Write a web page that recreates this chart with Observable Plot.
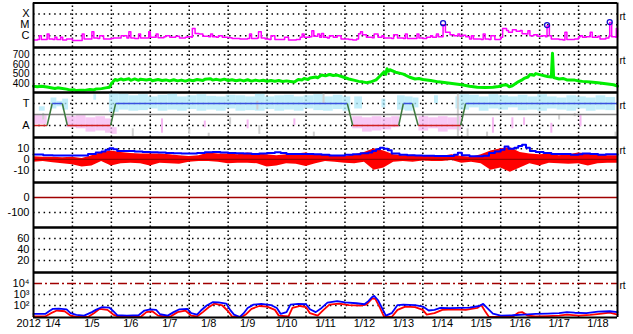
<!DOCTYPE html>
<html><head><meta charset="utf-8">
<script src="https://cdn.jsdelivr.net/npm/d3@7"></script>
<script src="https://cdn.jsdelivr.net/npm/@observablehq/plot@0.6"></script>
<style>
html,body{margin:0;padding:0;background:#fff;}
#chart{position:relative;width:633px;height:334px;overflow:hidden;background:#fff;}
#chart svg{position:absolute;left:0;top:0;}
</style></head><body><div id="chart"></div>
<script>
// ---------- DATA (t = days since 2012-01-04 00:00 UT) ----------
const dayLabels = ["1/4","1/5","1/6","1/7","1/8","1/9","1/10","1/11","1/12","1/13","1/14","1/15","1/16","1/17","1/18"];
const yearLabel = "2012";

// X-ray flux in units of 1e-6 W/m2 (C = 1)
const xrayFlux = [[0,0.4],[0.1,0.45],[0.15,1.0],[0.2,0.45],[0.35,1.4],[0.4,0.5],[0.5,0.45],[0.55,0.7],[0.6,0.45],[0.7,0.7],[0.75,0.4],[0.85,0.5],[1.0,0.35],[1.2,0.35],[1.25,1.4],[1.3,0.5],[1.45,0.5],[1.5,2.3],[1.55,0.6],[1.65,0.55],[1.7,1.0],[1.8,0.5],[2.0,0.55],[2.05,0.6],[2.2,0.6],[2.25,1.0],[2.4,0.6],[2.45,2.3],[2.5,0.6],[2.6,0.55],[2.7,1.4],[2.75,0.6],[2.9,0.6],[2.96,2.3],[3.0,0.7],[3.15,1.4],[3.2,0.65],[3.35,0.8],[3.4,1.0],[3.5,0.7],[3.6,0.7],[3.65,0.9],[3.75,0.6],[3.9,0.7],[3.95,0.8],[4.05,0.7],[4.08,4.6],[4.15,1.6],[4.25,1.4],[4.35,0.9],[4.5,0.8],[4.55,1.4],[4.6,0.8],[4.7,0.7],[4.75,1.0],[4.85,0.7],[5.0,0.65],[5.1,0.55],[5.3,0.5],[5.5,0.55],[5.55,1.4],[5.6,0.55],[5.75,0.6],[5.78,2.3],[5.85,0.6],[5.95,0.5],[6.05,0.45],[6.1,1.0],[6.2,0.45],[6.4,0.45],[6.45,0.7],[6.55,0.4],[6.75,0.45],[6.85,0.7],[6.9,1.4],[6.95,0.7],[7.1,0.8],[7.15,2.8],[7.2,0.9],[7.3,1.4],[7.35,0.7],[7.4,1.6],[7.45,0.7],[7.55,0.6],[7.6,1.0],[7.7,0.7],[7.8,1.0],[7.9,0.5],[8.1,0.45],[8.2,0.4],[8.3,0.5],[8.35,1.5],[8.4,2.3],[8.45,1.2],[8.55,0.7],[8.7,0.65],[8.75,1.4],[8.85,0.7],[8.95,1.0],[9.0,0.6],[9.2,0.55],[9.25,1.2],[9.35,0.6],[9.5,0.55],[9.55,1.4],[9.6,0.55],[9.8,0.55],[9.85,1.4],[9.9,0.6],[10.0,0.55],[10.1,0.7],[10.2,1.0],[10.25,0.7],[10.35,1.4],[10.4,0.8],[10.5,0.8],[10.52,10],[10.58,2.0],[10.7,1.2],[10.8,1.0],[10.9,1.4],[10.95,0.9],[11.0,1.1],[11.1,0.8],[11.2,0.5],[11.25,1.0],[11.3,0.5],[11.5,0.45],[11.55,1.4],[11.6,0.5],[11.7,0.45],[11.75,1.0],[11.85,0.45],[12.0,0.7],[12.05,4.6],[12.15,3.0],[12.2,2.0],[12.3,3.5],[12.4,2.5],[12.5,3.0],[12.55,1.5],[12.65,1.4],[12.7,2.8],[12.75,1.0],[12.85,1.2],[12.95,0.9],[13.05,1.0],[13.15,0.8],[13.19,8],[13.25,1.0],[13.3,0.5],[13.5,0.45],[13.6,0.4],[13.65,2.0],[13.7,0.45],[13.9,0.5],[14.0,0.8],[14.05,1.0],[14.1,0.7],[14.2,0.8],[14.3,2.0],[14.35,0.7],[14.5,0.9],[14.55,0.5],[14.7,0.6],[14.78,0.9],[14.8,16],[14.85,0.8],[14.95,0.7],[14.97,4.6],[15,0.8]];
const flareTimes = [10.52, 13.19, 14.8];
const flareMarks = [14, 9.4, 17.5];
const xrayTicks = [1, 10, 100];
const xrayTickLabels = ["C", "M", "X"];

// Solar wind speed (km/s)
const windSpeed = [[0,375],[0.1,370],[0.2,374],[0.35,366],[0.45,360],[0.55,352],[0.62,358],[0.7,354],[0.85,345],[0.95,335],[1.05,338],[1.1,330],[1.2,334],[1.3,332],[1.45,340],[1.55,336],[1.6,345],[1.75,350],[1.85,358],[1.95,365],[2.0,400],[2.05,425],[2.1,445],[2.15,435],[2.25,450],[2.3,440],[2.45,452],[2.5,436],[2.6,450],[2.7,436],[2.75,448],[2.9,440],[3.0,446],[3.05,432],[3.2,444],[3.3,434],[3.4,440],[3.5,430],[3.6,442],[3.7,430],[3.8,438],[3.9,428],[4.0,440],[4.1,432],[4.2,444],[4.35,434],[4.4,446],[4.55,452],[4.6,438],[4.7,446],[4.8,436],[4.9,448],[5.0,434],[5.1,442],[5.2,432],[5.3,440],[5.4,430],[5.5,442],[5.6,428],[5.7,438],[5.8,430],[5.9,436],[6.0,426],[6.1,434],[6.2,426],[6.3,434],[6.4,424],[6.5,430],[6.6,424],[6.7,418],[6.8,445],[6.9,440],[6.95,455],[7.05,445],[7.1,460],[7.25,470],[7.3,462],[7.4,490],[7.5,482],[7.6,496],[7.7,486],[7.8,490],[7.95,470],[8.1,450],[8.25,435],[8.35,425],[8.45,420],[8.55,412],[8.65,418],[8.8,440],[8.9,480],[9.0,520],[9.05,500],[9.08,555],[9.12,530],[9.15,545],[9.3,520],[9.4,510],[9.5,500],[9.65,470],[9.8,450],[9.9,455],[10.0,445],[10.2,435],[10.4,420],[10.6,410],[10.8,400],[11.0,390],[11.2,375],[11.4,365],[11.6,362],[11.8,365],[11.95,372],[12.05,385],[12.15,390],[12.22,370],[12.3,380],[12.45,420],[12.55,440],[12.6,455],[12.7,470],[12.75,495],[12.85,488],[12.9,505],[13.05,490],[13.2,475],[13.3,470],[13.33,715],[13.36,465],[13.5,450],[13.6,455],[13.7,440],[13.9,438],[14.0,430],[14.1,425],[14.3,418],[14.5,410],[14.7,400],[14.9,390],[15,375]];
const speedTicks = [400, 500, 600, 700];

// IMF sector: +1 toward (T), -1 away (A)
const sectorTimes    = [0, 0.35, 0.48, 0.74, 0.87, 1.98, 2.11, 8.06, 8.2, 9.38, 9.5, 9.73, 9.88, 10.97, 11.1, 15];
const sectorPolarity = [-1, -1, 1, 1, -1, -1, 1, 1, -1, -1, 1, 1, -1, -1, 1, 1];
// IMF angle scatter clusters [t0, t1, low, high]
const towardScatter = [[0.15,0.3,0.3,0.7],[0.45,0.6,0.5,1.5],[0.6,0.75,0.7,1.2],[0.75,0.9,0.4,1.4],[1.55,1.62,1.3,1.8],[1.95,2.2,0.2,1.9],[2.2,2.45,0.4,1.85],[2.45,2.7,0.3,1.7],[2.7,2.95,0.35,1.8],[2.95,3.2,0.5,1.6],[3.2,3.45,0.3,1.75],[3.45,3.7,0.4,1.85],[3.7,3.95,0.3,1.6],[3.95,4.2,0.45,1.7],[4.2,4.45,0.3,1.8],[4.45,4.7,0.4,1.65],[4.7,4.95,0.3,1.6],[4.95,5.2,0.5,1.75],[5.2,5.45,0.3,1.7],[5.45,5.7,0.35,1.6],[5.7,5.95,0.3,1.85],[5.95,6.2,0.45,1.6],[6.2,6.45,0.3,1.7],[6.45,6.7,0.4,1.75],[6.7,6.95,0.3,1.6],[6.95,7.2,0.5,1.7],[7.2,7.45,0.35,1.8],[7.45,7.7,0.3,1.6],[7.7,7.95,0.45,1.75],[7.95,8.15,0.3,1.6],[8.25,8.45,0.5,1.6],[8.95,9.05,0.6,1.4],[9.35,9.55,0.4,1.7],[9.55,9.75,0.3,1.6],[9.75,9.9,0.6,1.5],[10.3,10.4,1.0,1.7],[10.85,10.95,0.5,1.6],[10.95,11.2,0.4,1.8],[11.2,11.45,0.6,1.75],[11.45,11.7,0.3,1.6],[11.7,11.95,0.5,1.8],[11.95,12.2,0.4,1.7],[12.2,12.45,0.6,1.6],[12.45,12.7,0.35,1.75],[12.7,12.95,0.4,1.6],[12.95,13.2,0.3,1.8],[13.2,13.45,0.5,1.6],[13.45,13.7,0.4,1.5],[13.7,13.95,0.3,1.7],[13.95,14.2,0.5,1.6],[14.2,14.45,0.3,1.5],[14.45,14.7,0.4,1.7],[14.7,14.95,0.35,1.55]];
const awayScatter = [[0,0.35,-0.9,-0.1],[0.85,1.1,-1.2,-0.2],[1.1,1.35,-1.3,-0.1],[1.35,1.6,-1.6,-0.3],[1.6,1.85,-1.5,-0.2],[1.85,2.0,-1.7,-0.4],[2.0,2.15,-1.8,-1.2],[8.2,8.45,-1.3,-0.2],[8.45,8.7,-1.6,-0.3],[8.7,8.95,-1.5,-0.2],[8.95,9.2,-1.4,-0.3],[9.2,9.4,-1.2,-0.2],[9.9,10.15,-1.5,-0.2],[10.15,10.4,-1.3,-0.3],[10.4,10.65,-1.6,-0.2],[10.65,10.9,-1.4,-0.3],[10.9,11.0,-1.5,-0.2]];
const awaySpecks = [[3.3,-1.7,-0.4],[4.4,-1.2,-0.6],[5.5,-1.3,-0.5],[6.7,-1.0,-0.4],[11.8,-1.7,-0.3],[12.3,-1.3,-0.3],[12.6,-1.0,-0.3],[13.3,-1.7,-0.8],[14.05,-1.1,-0.1]];
const greySpecks = [[0.25,-0.5,0.1],[2.55,-2.0,-1.3],[4.0,-1.8,-1.3],[4.5,-2.0,-1.7],[5.05,-0.9,-0.3],[5.75,0.4,1.2],[5.8,-1.8,-1.0],[7.2,-2.0,-1.6],[7.45,1.0,1.9],[10.9,-2.0,1.9],[11.15,-2.0,-1.3],[11.65,-2.0,-1.6],[13.5,-0.5,-0.1],[13.9,-0.2,0.1],[14.95,-2.0,-1.6]];
const sectorTicks = [1, -1];
const sectorTickLabels = ["T", "A"];

// IMF Bt (nT)
const imfBt = [[0,4.7],[0.25,4],[0.5,3.7],[0.75,3.8],[1.0,3.6],[1.25,3.8],[1.4,5],[1.6,6.5],[1.75,7.5],[1.85,9],[1.95,10.5],[2.05,9.5],[2.15,8],[2.4,7.8],[2.6,7.5],[2.8,7],[3.0,6.8],[3.2,6.5],[3.4,6],[3.6,5.8],[3.8,5.6],[4.0,5.5],[4.2,6],[4.4,6.8],[4.6,7],[4.8,6.5],[5.0,6],[5.2,5.8],[5.4,5.5],[5.6,5.2],[5.8,5.5],[6.0,6],[6.2,6.8],[6.35,6],[6.5,5.2],[6.8,5],[7.0,5.2],[7.2,4.8],[7.4,4.5],[7.6,3.8],[7.8,3.7],[8.0,4.5],[8.2,4.8],[8.4,5.8],[8.6,6.5],[8.7,8],[8.8,9.5],[8.9,11],[9.0,10],[9.1,8.5],[9.2,5.5],[9.4,4.5],[9.6,4],[9.8,3.6],[10.0,3.5],[10.3,3.2],[10.6,3.2],[10.8,4.5],[10.9,6.2],[11.0,4],[11.2,3],[11.4,3],[11.55,3.5],[11.7,6],[11.85,7.5],[12.0,9],[12.1,12],[12.2,10],[12.35,11],[12.45,12.5],[12.55,13.8],[12.65,11],[12.75,8],[12.9,7],[13.1,6],[13.3,5],[13.5,5],[13.8,4.5],[14.0,4.8],[14.1,5.5],[14.3,5],[14.5,4.5],[14.7,4.8],[15,4.5]];
// IMF Bz extremes [t, low, high] (nT)
const imfBz = [[0,-2.5,2.5],[0.25,-2,2],[0.5,-3,2],[0.75,-4,1.5],[1.0,-5,2],[1.25,-7,1],[1.5,-6,3.5],[1.75,-2,6.5],[2.0,-6,8],[2.25,-4,6.5],[2.5,-3.5,5.5],[2.75,-4,5],[3.0,-6,5],[3.25,-3.5,5],[3.5,-4,4.5],[3.75,-4.5,3.5],[4.0,-2.5,2.8],[4.25,-2,3.5],[4.5,-2,6],[4.75,-2.5,5],[5.0,-4,5],[5.25,-3.5,4.5],[5.5,-3.5,6],[5.75,-4,5],[6.0,-7,4.5],[6.25,-6,3.5],[6.5,-4,4.5],[6.75,-4.5,5],[7.0,-6.5,6],[7.25,-4,4.5],[7.5,-2,4.5],[7.75,-2.5,3.5],[8.0,-3.5,2.8],[8.25,-4,4.5],[8.5,-2.5,6.5],[8.75,-10,10],[9.0,-8,8],[9.25,-2.5,4.5],[9.5,-2,3.5],[9.75,-2.5,4],[10.0,-1.5,3.5],[10.25,-2,3.5],[10.5,-2,3],[10.75,-1,4.5],[11.0,-3.5,2.8],[11.25,-2.5,2],[11.5,-4,4.5],[11.75,-10,8],[12.0,-8,10],[12.25,-12,11],[12.5,-8,6.5],[12.75,-4,5],[13.0,-6,4.5],[13.25,-3.5,5],[13.5,-4,3.5],[13.75,-4.5,4.5],[14.0,-4,6],[14.25,-6,5],[14.5,-4,4.5],[14.75,-3.5,3.5],[15,-3.5,3.5]];
const imfTicks = [10, 0, -10];

const dstTicks = [0, -100];
const panel6Ticks = [20, 40, 60];

// Particle flux
const fluxBlue = [[0,17],[0.3,17],[0.4,30],[0.5,50],[0.65,53],[0.85,45],[0.95,20],[1.1,14],[1.3,12],[1.5,25],[1.6,40],[1.75,70],[1.95,65],[2.05,30],[2.15,13],[2.4,12],[2.7,13],[2.85,35],[3.0,45],[3.15,40],[3.25,16],[3.45,12],[3.6,25],[3.75,45],[3.95,50],[4.05,20],[4.2,15],[4.3,35],[4.45,100],[4.6,200],[4.75,190],[4.95,150],[5.05,40],[5.15,15],[5.3,9],[5.4,20],[5.5,60],[5.65,120],[5.85,140],[6.1,110],[6.25,60],[6.35,17],[6.5,25],[6.6,120],[6.8,140],[7.0,130],[7.1,45],[7.25,25],[7.4,60],[7.55,180],[7.8,250],[8.0,190],[8.3,160],[8.5,130],[8.6,250],[8.7,600],[8.75,750],[8.85,300],[8.95,60],[9.05,12],[9.2,20],[9.35,110],[9.5,120],[9.8,110],[10.0,80],[10.15,35],[10.3,40],[10.45,60],[10.7,58],[10.95,62],[11.2,65],[11.45,90],[11.55,140],[11.65,60],[11.8,18],[12.0,12],[12.3,13],[12.6,15],[12.9,17],[13.2,18],[13.5,20],[13.7,25],[13.9,22],[14.2,20],[14.5,28],[14.8,30],[15,25]];
const fluxRed = [[0,10],[0.3,10],[0.45,20],[0.6,35],[0.8,30],[0.95,12],[1.1,9],[1.4,9],[1.55,20],[1.7,50],[1.9,40],[2.05,15],[2.2,9],[2.75,9],[2.9,25],[3.05,30],[3.2,12],[3.5,9],[3.7,25],[3.9,35],[4.05,12],[4.2,10],[4.35,25],[4.5,70],[4.65,150],[4.85,100],[5.0,30],[5.1,10],[5.35,9],[5.45,15],[5.6,50],[5.8,90],[6.0,80],[6.2,40],[6.3,12],[6.55,10],[6.65,60],[6.85,90],[7.0,70],[7.1,20],[7.3,12],[7.45,40],[7.6,120],[7.85,150],[8.1,110],[8.4,100],[8.55,120],[8.7,450],[8.78,400],[8.9,60],[9.0,10],[9.2,9],[9.35,40],[9.55,80],[9.8,70],[10.0,40],[10.1,15],[10.3,20],[10.5,40],[10.8,45],[11.1,40],[11.4,60],[11.5,110],[11.6,30],[11.7,9],[12.3,9],[12.45,22],[12.55,25],[12.7,12],[12.9,10],[13.2,11],[13.5,12],[13.7,15],[14.0,12],[14.3,14],[14.6,18],[14.8,22],[15,15]];
const fluxThreshold = [1e4];
const fluxTicks = [1e4, 1e3, 1e2];
const fluxTickLabels = ["10\u2074", "10\u00b3", "10\u00b2"];

// ---------- DRAWING ----------
const day0 = Date.UTC(2012, 0, 4);
const T = t => new Date(day0 + t * 864e5);
const X0 = T(0), X1 = T(15);
const gridDays = dayLabels.slice(1).map((d, i) => i + 1);
const FONT = "'Liberation Sans', Arial, Helvetica, sans-serif";
const chart = document.getElementById("chart");

function panel({top, bottom, type = "linear", domain, ticks, labels, grid, marks, rt, fontSize = 11}) {
  const [lo, hi] = domain;
  const all = [
    Plot.ruleX(gridDays, {x: d => T(d), y1: () => lo, y2: () => hi, stroke: "#000", strokeWidth: 1.5, strokeDasharray: "1.5,2.5"}),
    Plot.ruleY(grid ?? ticks, {y: d => d, x1: () => X0, x2: () => X1, stroke: "#000", strokeWidth: 1.5, strokeDasharray: "1.5,3.8"}),
    ...marks,
    Plot.ruleY([lo, hi], {y: d => d, x1: () => X0, x2: () => X1, stroke: "#000", strokeWidth: 2}),
    Plot.ruleX([X0, X1], {x: d => d, y1: () => lo, y2: () => hi, stroke: "#000", strokeWidth: 2}),
    Plot.text(ticks, {y: d => d, text: (d, i) => labels ? labels[i] : String(d), frameAnchor: "left", dx: 29, textAnchor: "end", fontSize, fill: "#000"})
  ];
  if (rt) all.push(Plot.text(["rt"], {text: d => d, frameAnchor: "top-left", dx: 619, dy: top + 9.5, textAnchor: "start", fontSize: 10, fill: "#000"}));
  chart.appendChild(Plot.plot({
    width: 633, height: 334, margin: 0,
    style: {background: "transparent", fontFamily: FONT, overflow: "visible"},
    x: {type: "utc", domain: [X0, X1], range: [33, 617], axis: null},
    y: {type, domain, range: [bottom, top], axis: null},
    marks: all
  }));
}

// Panel 1: X-ray
panel({top: 2.5, bottom: 47, type: "log", domain: [0.081, 1000], ticks: xrayTicks, labels: xrayTickLabels, rt: true,
  marks: [
    Plot.line(xrayFlux, {x: d => T(d[0]), y: d => d[1], curve: "step-after", stroke: "#ff00ff", strokeWidth: 1.5}),
    Plot.dot(flareTimes, {x: d => T(d), y: (d, i) => flareMarks[i], r: 2.5, stroke: "#1010d0", strokeWidth: 1.3, fill: "none"})
  ]});

// Panel 2: solar wind speed
panel({top: 47, bottom: 92, domain: [310, 775], ticks: speedTicks, rt: true, fontSize: 10,
  marks: [
    Plot.line(windSpeed, {x: d => T(d[0]), y: d => d[1], stroke: "#00ee00", strokeWidth: 3})
  ]});

// Panel 3: IMF sector
const sectorSegs = sectorTimes.slice(1).map((t, i) => ({t0: sectorTimes[i], t1: t, p0: sectorPolarity[i], p1: sectorPolarity[i + 1]}));
panel({top: 92, bottom: 137, domain: [-2.09, 2], ticks: sectorTicks, labels: sectorTickLabels, rt: true,
  marks: [
    Plot.rect(towardScatter, {x1: d => T(d[0]), x2: d => T(d[1]), y1: d => d[2], y2: d => d[3], fill: "#aee8f8", fillOpacity: 0.75}),
    Plot.rect(awayScatter, {x1: d => T(d[0]), x2: d => T(d[1]), y1: d => d[2], y2: d => d[3], fill: "#f6b6f2", fillOpacity: 0.75}),
    Plot.ruleX(awaySpecks, {x: d => T(d[0]), y1: d => d[1], y2: d => d[2], stroke: "#f6b6f2", strokeWidth: 2}),
    Plot.ruleX(greySpecks, {x: d => T(d[0]), y1: d => d[1], y2: d => d[2], stroke: "#d0d0d0", strokeWidth: 2}),
    Plot.ruleY([0], {y: d => d, x1: () => X0, x2: () => X1, stroke: "#808080", strokeWidth: 1.5}),
    Plot.link(sectorSegs, {x1: d => T(d.t0), x2: d => T(d.t1), y1: d => d.p0, y2: d => d.p1, strokeWidth: 1.5,
      stroke: d => d.p0 !== d.p1 ? "#3c7a3c" : d.p0 > 0 ? "#3850e0" : "#d02020"})
  ]});

// Panel 4: IMF Bt / Bz
panel({top: 137, bottom: 182, domain: [-21.5, 20.5], ticks: imfTicks, rt: true,
  marks: [
    Plot.areaY(imfBz, {x: d => T(d[0]), y1: d => d[1], y2: d => d[2], curve: "linear", fill: "#ff0000"}),
    Plot.ruleY([0], {y: d => d, x1: () => X0, x2: () => X1, stroke: "#a00000", strokeWidth: 1.2}),
    Plot.line(imfBt, {x: d => T(d[0]), y: d => d[1], curve: "step-after", stroke: "#0000ff", strokeWidth: 2})
  ]});

// Panel 5
panel({top: 182, bottom: 227, domain: [-200, 100], ticks: dstTicks, grid: [-100],
  marks: [
    Plot.ruleY([0], {y: d => d, x1: () => X0, x2: () => X1, stroke: "#a00000", strokeWidth: 1.5})
  ]});

// Panel 6
panel({top: 227, bottom: 272, domain: [-2, 80], ticks: panel6Ticks, marks: []});

// Panel 7: particle flux
panel({top: 272, bottom: 317, type: "log", domain: [8.1, 1e5], ticks: fluxTicks, labels: fluxTickLabels, grid: [1e3, 1e2], rt: true,
  marks: [
    Plot.ruleY(fluxThreshold, {y: d => d, x1: () => X0, x2: () => X1, stroke: "#a00000", strokeWidth: 1.5, strokeDasharray: "9,3,2,3"}),
    Plot.line(fluxRed, {x: d => T(d[0]), y: d => d[1], curve: "linear", stroke: "#ff0000", strokeWidth: 1.8}),
    Plot.line(fluxBlue, {x: d => T(d[0]), y: d => d[1], curve: "linear", stroke: "#0000ff", strokeWidth: 1.8})
  ]});

// X axis labels
chart.appendChild(Plot.plot({
  width: 633, height: 334, margin: 0,
  style: {background: "transparent", fontFamily: FONT},
  x: {type: "utc", domain: [X0, X1], range: [33, 617], axis: null},
  marks: [
    Plot.text(dayLabels, {x: (d, i) => T(i + 0.5), text: d => d, frameAnchor: "bottom", dy: -8, fontSize: 11, fill: "#000"}),
    Plot.text([yearLabel], {text: d => d, frameAnchor: "bottom-left", dx: 16, dy: -8, fontSize: 11, fill: "#000"})
  ]
}));
</script>
</body></html>
